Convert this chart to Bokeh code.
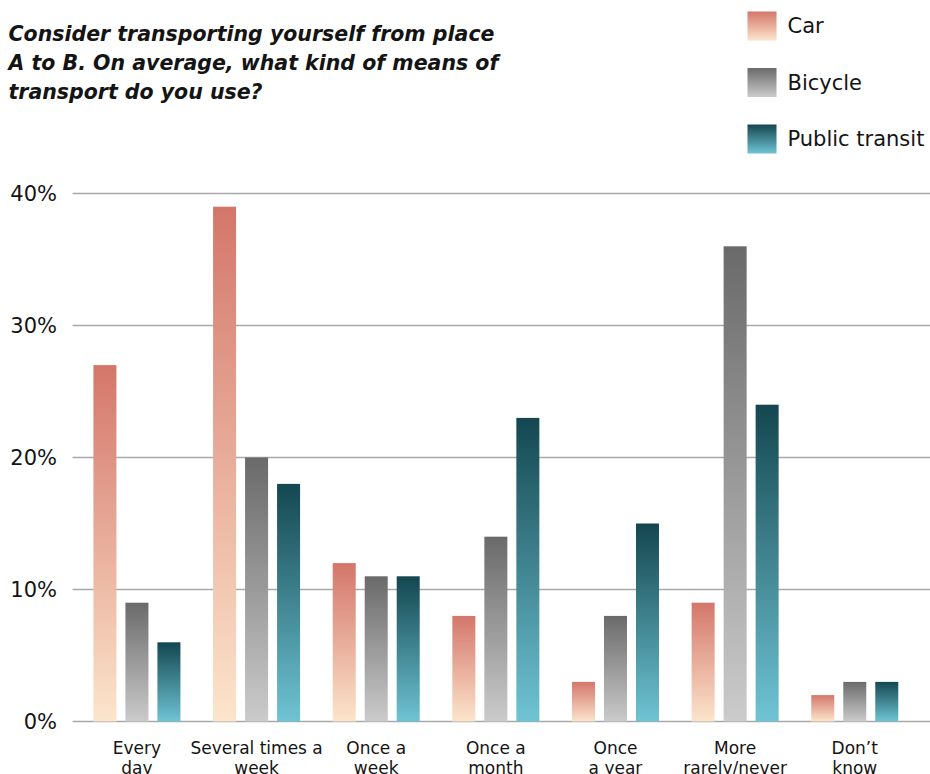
import numpy as np
from bokeh.plotting import figure
from bokeh.models import Range1d, ColumnDataSource
from bokeh.core.properties import value
from bokeh.embed import file_html
from bokeh.resources import INLINE

# ---------------- data ----------------
categories = ["Every\nday", "Several times a\nweek", "Once a\nweek", "Once a\nmonth",
              "Once\na year", "More\nrarely/never", "Don\u2019t\nknow"]
series_names = ["Car", "Bicycle", "Public transit"]
car = [27, 39, 12, 8, 3, 9, 2]
bicycle = [9, 20, 11, 14, 8, 36, 3]
public_transit = [6, 18, 11, 23, 15, 24, 3]
y_ticks = [0, 10, 20, 30, 40]
y_tick_labels = ["0%", "10%", "20%", "30%", "40%"]
title_lines = ["Consider transporting yourself from place",
               "A to B. On average, what kind of means of",
               "transport do you use?"]

# ---------------- styles ----------------
FONT = "DejaVu Sans"
TEXT_COLOR = "#141414"
GRID_COLOR = "#a9a9a9"
gradient_colors = {            # (top, bottom)
    "Car": ("#d4766a", "#fce5cc"),
    "Bicycle": ("#6a6a6a", "#cbcbcb"),
    "Public transit": ("#144750", "#6fc4d4"),
}

W, H = 930, 774
# layout of the plotting area in page pixels
X0_PX, PX_PER_CAT = 136.43, 119.64       # centre of first category, category spacing
Y0_PX, PX_PER_PCT = 721.0, 13.2          # baseline (0 %) and scale
GRID_LEFT_PX = 72


def sx(px):
    return (px - X0_PX) / PX_PER_CAT


def sy(py):
    return (Y0_PX - py) / PX_PER_PCT


def hex_rgb(h):
    h = h.lstrip("#")
    return [int(h[i:i + 2], 16) for i in (0, 2, 4)]


def gradient_image(top, bottom, n=256):
    t = np.linspace(0.0, 1.0, n)[:, None]          # row 0 = bottom
    b = np.array(hex_rgb(bottom), dtype=float)
    tp = np.array(hex_rgb(top), dtype=float)
    rgb = b + (tp - b) * t
    img = np.empty((n, 2), dtype=np.uint32)
    view = img.view(dtype=np.uint8).reshape((n, 2, 4))
    for c in range(3):
        view[:, :, c] = np.round(rgb[:, c:c + 1]).astype(np.uint8)
    view[:, :, 3] = 255
    return img


p = figure(width=W, height=H, output_backend="svg", toolbar_location=None,
           x_range=Range1d(sx(0), sx(W)), y_range=Range1d(sy(H), sy(0)),
           x_axis_location=None, y_axis_location=None,
           min_border=0, outline_line_color=None)
p.grid.visible = False

# ---- gridlines + y tick labels ----
p.segment(x0=[sx(GRID_LEFT_PX)] * len(y_ticks), x1=[sx(W)] * len(y_ticks),
          y0=y_ticks, y1=y_ticks, line_color=GRID_COLOR, line_width=1.6)
p.text(x=[sx(56.5)] * len(y_ticks), y=y_ticks, text=y_tick_labels,
       text_font=value(FONT), text_font_size="21px", text_color=TEXT_COLOR,
       text_align="right", text_baseline="middle")

# ---- bars (vertical gradient per bar) ----
bar_w = 23 / PX_PER_CAT
bar_step = 32 / PX_PER_CAT
positions = list(range(len(categories)))
for j, (name, vals) in enumerate(zip(series_names, [car, bicycle, public_transit])):
    top, bottom = gradient_colors[name]
    img = gradient_image(top, bottom)
    src = ColumnDataSource(dict(
        image=[img for _ in vals],
        x=[pos + (j - 1) * bar_step - bar_w / 2 for pos in positions],
        y=[0 for _ in vals],
        dw=[bar_w for _ in vals],
        dh=list(vals)))
    p.image_rgba(image="image", x="x", y="y", dw="dw", dh="dh", source=src)

# ---- category labels ----
label_src = ColumnDataSource(dict(x=positions, y=[sy(Y0_PX + 16)] * len(positions),
                                  text=categories))
p.text(x="x", y="y", text="text", source=label_src,
       text_font=value(FONT), text_font_size="17px", text_color=TEXT_COLOR,
       text_align="center", text_baseline="top", text_line_height=1.0)

# ---- title ----
p.text(x=[sx(8)] * 3, y=[sy(33), sy(62), sy(91)], text=title_lines,
       text_font=value(FONT), text_font_size="20.5px", text_font_style="bold italic",
       text_color=TEXT_COLOR, text_align="left", text_baseline="alphabetic")

# ---- legend ----
SW = 29
for i, name in enumerate(series_names):
    cy = 25.5 + i * 56.5
    top, bottom = gradient_colors[name]
    p.image_rgba(image=[gradient_image(top, bottom)], x=sx(747), y=sy(cy + SW / 2),
                 dw=SW / PX_PER_CAT, dh=SW / PX_PER_PCT)
    p.text(x=[sx(787)], y=[sy(cy)], text=[name],
           text_font=value(FONT), text_font_size="21px", text_color=TEXT_COLOR,
           text_align="left", text_baseline="middle")

open("out.html", "w").write(file_html(p, INLINE))
